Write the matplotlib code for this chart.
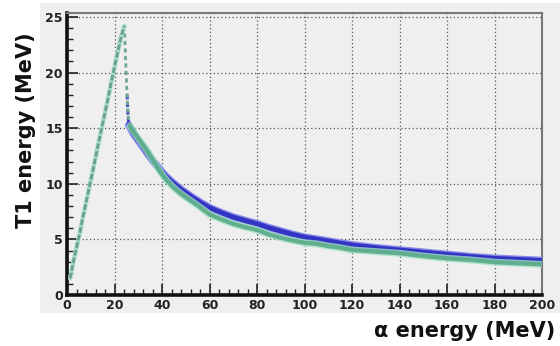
import matplotlib
matplotlib.use("Agg")
import matplotlib.pyplot as plt
from matplotlib.patches import Rectangle
from matplotlib.ticker import MultipleLocator

plt.rcParams['font.family'] = ['Liberation Sans', 'DejaVu Sans']

# Rising branch (shared by both data sets)
rise_x = [1.3, 3, 5, 7, 9, 11, 13, 15, 17, 19, 21, 23, 24.2]
rise_y = [1.5, 3.3, 5.2, 7.3, 9.3, 11.3, 13.4, 15.4, 17.4, 19.5, 21.5, 23.4, 24.2]

# Steep drop just past the peak, green set
drop_green_x = [24.2, 24.6, 25.0, 25.4, 25.8, 26.5]
drop_green_y = [24.2, 21.5, 19.5, 17.5, 16.0, 15.2]

# Slow tail, green set
green_x = [26.5, 28, 30, 32, 34, 36, 38, 40, 42, 44, 46, 48, 50, 53, 56, 60, 65, 70,
           75, 80, 85, 90, 95, 100, 105, 110, 115, 120, 130, 140, 150, 160, 170, 180,
           190, 200]
green_y = [15.2, 14.7, 14.1, 13.5, 12.9, 12.2, 11.5, 10.85, 10.3, 9.85, 9.45, 9.1, 8.8,
           8.35, 7.9, 7.25, 6.8, 6.4, 6.1, 5.85, 5.45, 5.15, 4.9, 4.7, 4.6, 4.4, 4.25,
           4.05, 3.9, 3.75, 3.5, 3.3, 3.15, 2.95, 2.85, 2.75]

# Steep drop, blue set
drop_blue_x = [25.3, 25.6, 26.0]
drop_blue_y = [18.0, 16.5, 15.3]

# Slow tail, blue set
blue_x = [26, 27, 28, 30, 32, 34, 36, 38, 40, 42, 44, 46, 48, 50, 53, 56, 60, 65, 70,
          75, 80, 85, 90, 95, 100, 110, 120, 130, 140, 150, 160, 170, 180, 190, 200]
blue_y = [15.3, 14.9, 14.5, 13.9, 13.3, 12.7, 12.1, 11.6, 11.05, 10.6, 10.2, 9.85, 9.5,
          9.2, 8.75, 8.35, 7.85, 7.4, 7.0, 6.7, 6.4, 6.05, 5.75, 5.45, 5.2, 4.85, 4.5,
          4.25, 4.05, 3.85, 3.65, 3.45, 3.3, 3.2, 3.1]

x_ticks = [0, 20, 40, 60, 80, 100, 120, 140, 160, 180, 200]
y_ticks = [0, 5, 10, 15, 20, 25]

fig = plt.figure(figsize=(5.6, 3.46), dpi=100)
fig.patch.set_facecolor('white')

# Light grey canvas behind the frame
fig.patches.append(Rectangle((40 / 560, 1 - 313 / 346), 520 / 560, 310 / 346,
                             transform=fig.transFigure, facecolor='#efefef',
                             edgecolor='none', zorder=-10))

ax = fig.add_axes([67 / 560, 1 - 295 / 346, 475 / 560, 282 / 346])
ax.set_facecolor('#efefef')
ax.set_xlim(0, 200)
ax.set_ylim(0, 25.36)

ax.set_xticks(x_ticks)
ax.set_yticks(y_ticks)
ax.xaxis.set_minor_locator(MultipleLocator(4))
ax.yaxis.set_minor_locator(MultipleLocator(1))
ax.grid(True, which='major', color='#555555', linestyle=(0, (1, 2)), linewidth=0.9)
ax.set_axisbelow(True)

ax.tick_params(which='major', direction='in', length=8, width=1.2, color='#222222',
               labelsize=9, pad=3)
ax.tick_params(which='minor', direction='in', length=4, width=1.0, color='#222222')
for lab in ax.get_xticklabels() + ax.get_yticklabels():
    lab.set_fontweight('bold')
    lab.set_color('#222222')
    lab.set_family(['DejaVu Sans'])

for side in ('left', 'bottom'):
    ax.spines[side].set_linewidth(2.6)
    ax.spines[side].set_color('#111111')
for side in ('top', 'right'):
    ax.spines[side].set_linewidth(1.5)
    ax.spines[side].set_color('#777777')

# Data bands
ax.plot(blue_x, blue_y, color='#8a8ae8', linewidth=5.5, solid_capstyle='round', zorder=3)
ax.plot(blue_x, blue_y, color='#3434c4', linewidth=3.5, solid_capstyle='round', zorder=3)
ax.plot(drop_blue_x, drop_blue_y, color='#4848c8', linewidth=2.2,
        linestyle=(0, (1.5, 1)), zorder=3)
ax.plot(green_x, green_y, color='#9ee0c4', linewidth=5, solid_capstyle='round',
        zorder=4, alpha=0.8)
ax.plot(green_x, green_y, color='#5aaa88', linewidth=3, solid_capstyle='round',
        zorder=4, alpha=0.9)
ax.plot(drop_green_x, drop_green_y, color='#6aa890', linewidth=2,
        linestyle=(0, (1.5, 1.2)), zorder=4)
ax.plot(rise_x, rise_y, color='#a8dcc8', linewidth=3.2, solid_capstyle='round', zorder=4)
ax.plot(rise_x, rise_y, color='#6aa08c', linewidth=2.0, linestyle=(0, (2, 0.8)), zorder=4)

label_font = dict(fontsize=15, fontweight='bold', color='#111111',
                  family=['DejaVu Sans'])
fig.text(26 / 560, 1 - 130 / 346, 'T1 energy (MeV)', rotation=90, ha='center',
         va='center', **label_font)
fig.text(555 / 560, 1 - 331 / 346, 'α energy (MeV)', ha='right', va='center',
         **label_font)

fig.savefig('out.png', dpi=100)
